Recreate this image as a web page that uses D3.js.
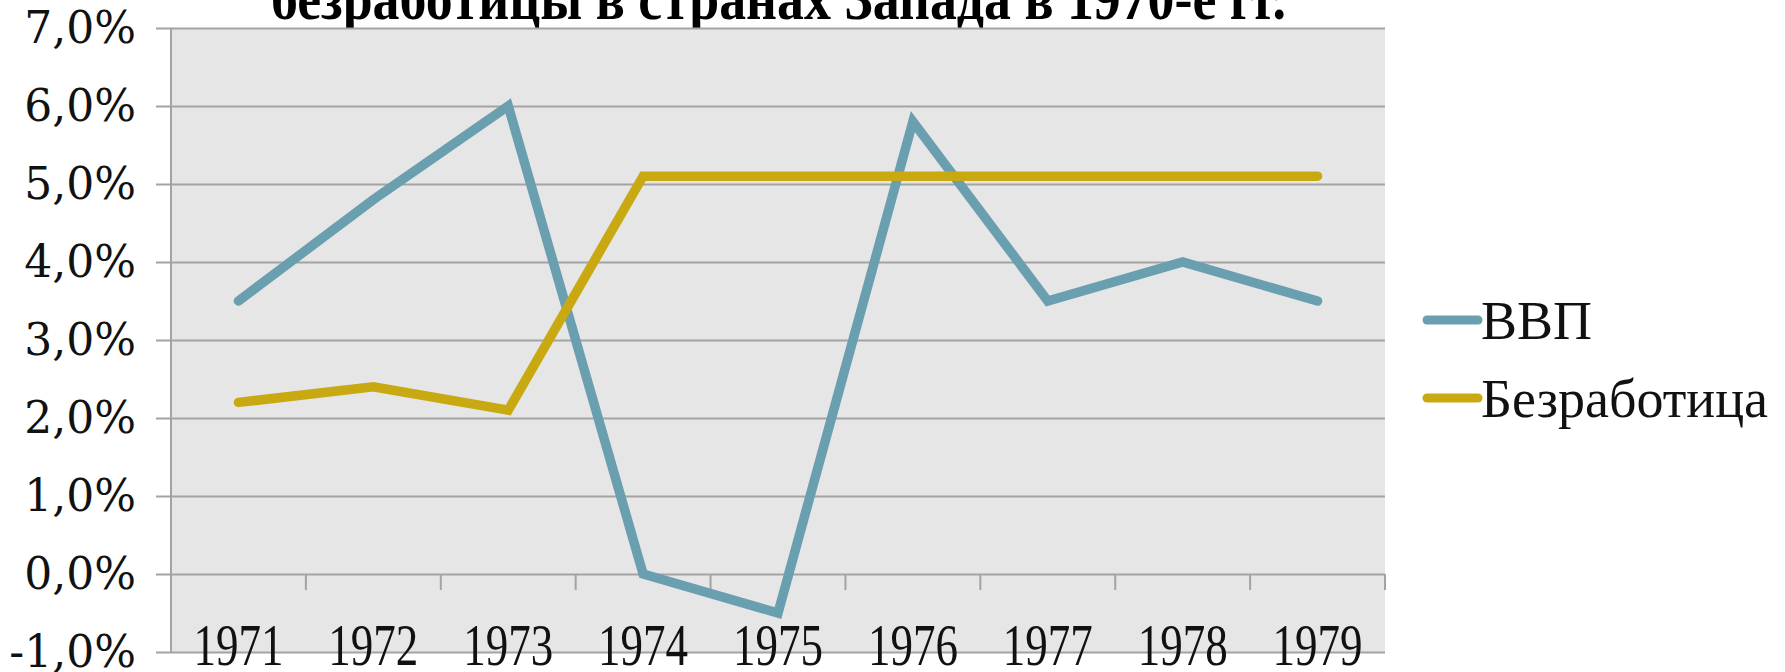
<!DOCTYPE html>
<html>
<head>
<meta charset="utf-8">
<script src="https://cdn.jsdelivr.net/npm/d3@7"></script>
<style>
  body { margin: 0; background: #fff; }
  svg { display: block; }
</style>
</head>
<body>
<script>
// chart data
var years = ["1971", "1972", "1973", "1974", "1975", "1976", "1977", "1978", "1979"];
var gdp = [3.5, 4.8, 6.0, 0.0, -0.5, 5.8, 3.5, 4.0, 3.5];
var unemployment = [2.2, 2.4, 2.1, 5.1, 5.1, 5.1, 5.1, 5.1, 5.1];
var seriesNames = ["ВВП", "Безработица"];
var yTicks = [-1, 0, 1, 2, 3, 4, 5, 6, 7];
var titleText = "безработицы в странах Запада в 1970-е гг.";

var W = 1785, H = 672;
var margin = {top: 28, right: 400, bottom: 20, left: 171};
var width = 1385 - margin.left,
    height = 652 - margin.top;

var colors = ["#6a9fb0", "#c9a912"];

var svg = d3.select("body").append("svg")
    .attr("width", W)
    .attr("height", H);

// title (cut by the top of the picture)
svg.append("text")
    .attr("x", 271)
    .attr("y", 19)
    .attr("textLength", 1015)
    .attr("lengthAdjust", "spacingAndGlyphs")
    .style("font-family", "'Liberation Serif', serif")
    .style("font-weight", "bold")
    .style("font-size", "62px")
    .text(titleText);

var g = svg.append("g")
    .attr("transform", "translate(" + margin.left + "," + margin.top + ")");

// scales
var x = d3.scaleBand()
    .domain(years)
    .range([0, width]);
var y = d3.scaleLinear()
    .domain([-1, 7])
    .range([height, 0]);

// plot background
g.append("rect")
    .attr("width", width)
    .attr("height", height)
    .style("fill", "#e6e6e6");

// y axis with gridlines
var yAxis = g.append("g")
    .call(d3.axisLeft(y)
        .tickValues(yTicks)
        .tickSize(-width)
        .tickFormat(function(d) { return d.toFixed(1).replace(".", ",") + "%"; }));
yAxis.attr("font-family", null);
yAxis.select(".domain").remove();
yAxis.selectAll(".tick line")
    .attr("x1", -15)
    .style("stroke", "#a3a3a3")
    .style("stroke-width", 2);
yAxis.selectAll(".tick text")
    .attr("x", -35)
    .style("font-family", "'DejaVu Serif', serif")
    .style("font-size", "44px")
    .style("fill", "#111");

// left axis line
g.append("line")
    .attr("x1", 0).attr("x2", 0)
    .attr("y1", 0).attr("y2", height)
    .style("stroke", "#a3a3a3")
    .style("stroke-width", 2);

// category axis sits on the 0% line, with separator ticks between years
var bounds = years.map(function(d) { return x(d); }).concat([width]);
var xAxis = g.append("g")
    .attr("transform", "translate(0," + y(0) + ")");
xAxis.selectAll(".sep")
    .data(bounds)
  .enter().append("line")
    .attr("class", "sep")
    .attr("x1", function(d) { return d; })
    .attr("x2", function(d) { return d; })
    .attr("y1", 0)
    .attr("y2", 16)
    .style("stroke", "#a3a3a3")
    .style("stroke-width", 2);

// category labels near the bottom
g.selectAll(".year")
    .data(years)
  .enter().append("text")
    .attr("class", "year")
    .attr("x", function(d) { return x(d) + x.bandwidth() / 2; })
    .attr("y", y(-1) + 13)
    .attr("text-anchor", "middle")
    .attr("textLength", 90)
    .attr("lengthAdjust", "spacingAndGlyphs")
    .style("font-family", "'Liberation Serif', serif")
    .style("font-size", "60px")
    .style("fill", "#111")
    .text(function(d) { return d; });

// lines
var line = d3.line()
    .x(function(d, i) { return x(years[i]) + x.bandwidth() / 2; })
    .y(function(d) { return y(d); });

[gdp, unemployment].forEach(function(s, i) {
  g.append("path")
      .datum(s)
      .attr("d", line)
      .style("fill", "none")
      .style("stroke", colors[i])
      .style("stroke-width", 9.5)
      .style("stroke-linejoin", "miter")
      .style("stroke-linecap", "round");
});

// legend
var legend = svg.selectAll(".legend")
    .data(seriesNames)
  .enter().append("g")
    .attr("class", "legend")
    .attr("transform", function(d, i) { return "translate(1427," + (320 + i * 78) + ")"; });

legend.append("line")
    .attr("x1", 0).attr("x2", 51)
    .style("stroke", function(d, i) { return colors[i]; })
    .style("stroke-width", 9)
    .style("stroke-linecap", "round");

legend.append("text")
    .attr("x", 54)
    .attr("dy", "0.35em")
    .style("font-family", "'Liberation Serif', serif")
    .style("font-size", "54px")
    .style("fill", "#111")
    .text(function(d) { return d; });
</script>
</body>
</html>
